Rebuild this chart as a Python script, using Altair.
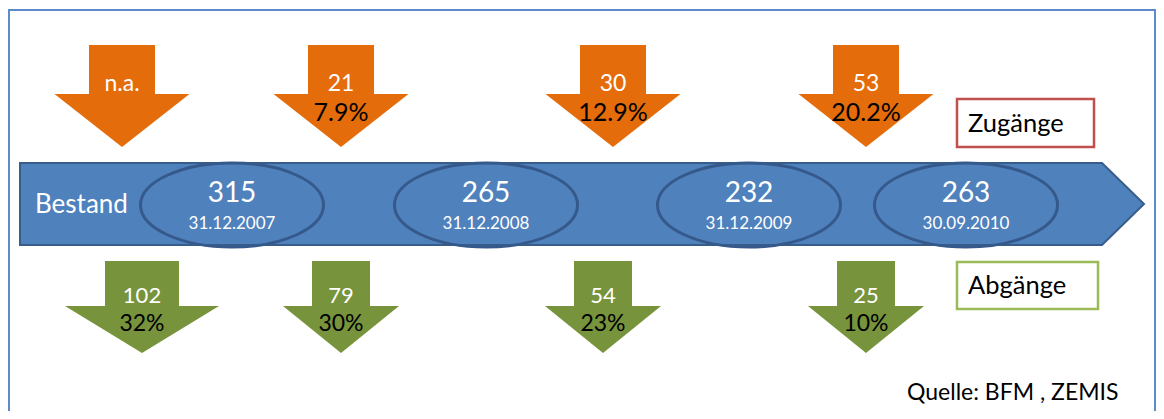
import altair as alt
import pandas as pd

# ---------------- data ----------------
dates = ["31.12.2007", "31.12.2008", "31.12.2009", "30.09.2010"]
bestand = [315, 265, 232, 263]
zugang = ["n.a.", "21", "30", "53"]
zugang_pct = ["", "7.9%", "12.9%", "20.2%"]
abgang = ["102", "79", "54", "25"]
abgang_pct = ["32%", "30%", "23%", "10%"]
stock_label = ["Bestand"]
legend_labels = ["Zugänge", "Abgänge"]
source_label = ["Quelle: BFM , ZEMIS"]

# ---------------- layout (page pixels) ----------------
W, H = 1148, 403
X0, Y0 = 8, 8
ell_x = [232, 486, 749, 966]
zu_x = [122, 341, 613, 866]
ab_x = [142, 341, 603, 866]
zu_head_half = [67.5, 67.5, 67.5, 67.5]
zu_shaft_half = [33, 33, 33, 33]
ab_head_half = [77, 58, 58, 58]
ab_shaft_half = [37, 29, 29, 29]
zu_top, zu_neck, zu_tip = 45, 94, 147
ab_top, ab_neck, ab_tip = 261, 306, 353
bar_left, bar_right, bar_point = 20, 1102, 1144
bar_top, bar_bottom = 163, 245
ell_w, ell_ratio = 183, 0.46

ORANGE = "#E46C0A"
GREEN = "#77933C"
BLUE = "#4F81BD"
BLUE_DARK = "#385D8A"
ELL = "#35598A"
FRAME = "#5B8BC8"
RED_BOX = "#C0504D"
GREEN_BOX = "#9BBB59"
FONT = "Lato"

xs = alt.Scale(domain=[X0, X0 + W], nice=False, zero=False)
ys = alt.Scale(domain=[Y0, Y0 + H], nice=False, zero=False, reverse=True)


def X(f="x"):
    return alt.X(f"{f}:Q", scale=xs, axis=None)


def Y(f="y"):
    return alt.Y(f"{f}:Q", scale=ys, axis=None)


# ---------------- frame ----------------
frame = alt.Chart(pd.DataFrame({"x": [9], "x2": [1155], "y": [10], "y2": [440]})).mark_rect(
    fillOpacity=0, stroke=FRAME, strokeWidth=2
).encode(x=X(), x2="x2:Q", y=Y(), y2="y2:Q")

# ---------------- arrows ----------------
shaft_rows, head_rows = [], []
for i, cx in enumerate(zu_x):
    shaft_rows.append({"g": "zu", "x": cx - zu_shaft_half[i], "x2": cx + zu_shaft_half[i],
                       "y": zu_top, "y2": zu_neck + 1})
    for px, py, py2 in [(cx - zu_head_half[i], zu_neck, zu_neck), (cx, zu_neck, zu_tip),
                        (cx + zu_head_half[i], zu_neck, zu_neck)]:
        head_rows.append({"id": f"zu{i}", "g": "zu", "x": px, "y": py, "y2": py2})
for i, cx in enumerate(ab_x):
    shaft_rows.append({"g": "ab", "x": cx - ab_shaft_half[i], "x2": cx + ab_shaft_half[i],
                       "y": ab_top, "y2": ab_neck + 1})
    for px, py, py2 in [(cx - ab_head_half[i], ab_neck, ab_neck), (cx, ab_neck, ab_tip),
                        (cx + ab_head_half[i], ab_neck, ab_neck)]:
        head_rows.append({"id": f"ab{i}", "g": "ab", "x": px, "y": py, "y2": py2})

col = alt.Color("g:N", scale=alt.Scale(domain=["zu", "ab"], range=[ORANGE, GREEN]), legend=None)

shafts = alt.Chart(pd.DataFrame(shaft_rows)).mark_rect().encode(
    x=X(), x2="x2:Q", y=Y(), y2="y2:Q", color=col)
heads = alt.Chart(pd.DataFrame(head_rows)).mark_area(orient="vertical", interpolate="linear").encode(
    x=X(), y=Y(), y2="y2:Q", color=col, detail="id:N")

# ---------------- timeline bar ----------------
bar_df = pd.DataFrame({
    "x": [bar_left, bar_right, bar_point],
    "y": [bar_top, bar_top, (bar_top + bar_bottom) / 2],
    "y2": [bar_bottom, bar_bottom, (bar_top + bar_bottom) / 2],
})
bar = alt.Chart(bar_df).mark_area(
    orient="vertical", interpolate="linear", color=BLUE, stroke=BLUE_DARK, strokeWidth=2
).encode(x=X(), y=Y(), y2="y2:Q")

ell_path = f"M-1,0A1,{ell_ratio},0,1,1,1,0A1,{ell_ratio},0,1,1,-1,0Z"
ell_df = pd.DataFrame({"x": ell_x, "y": [(bar_top + bar_bottom) / 2 + 1] * 4})
ellipses = alt.Chart(ell_df).mark_point(
    shape=ell_path, size=ell_w ** 2, filled=False, color=ELL, strokeWidth=3, opacity=1
).encode(x=X(), y=Y())

# ---------------- texts ----------------
def text_layer(xv, yv, labels, color, size, align="center"):
    df = pd.DataFrame({"x": xv, "y": yv, "t": labels})
    return alt.Chart(df).mark_text(
        font=FONT, fontSize=size, color=color, align=align, baseline="middle"
    ).encode(x=X(), y=Y(), text="t:N")

t_zu = text_layer(zu_x, [84] * 4, zugang, "white", 23)
t_zu_pct = text_layer(zu_x, [113] * 4, zugang_pct, "black", 25)
t_best = text_layer(ell_x, [194] * 4, [str(v) for v in bestand], "white", 28)
t_dates = text_layer(ell_x, [224] * 4, dates, "white", 17)
t_ab = text_layer(ab_x, [296] * 4, abgang, "white", 22)
t_ab_pct = text_layer(ab_x, [324] * 4, abgang_pct, "black", 23)
t_stock = text_layer([35], [205], stock_label, "white", 26, align="left")

# legend boxes
box_df = pd.DataFrame({"x": [957, 957], "x2": [1094, 1098], "y": [99, 262], "y2": [147, 309],
                       "g": legend_labels})
boxes = alt.Chart(box_df).mark_rect(fill="white", strokeWidth=2.5).encode(
    x=X(), x2="x2:Q", y=Y(), y2="y2:Q",
    stroke=alt.Stroke("g:N", scale=alt.Scale(domain=legend_labels, range=[RED_BOX, GREEN_BOX]),
                      legend=None))
t_leg = text_layer([968, 968], [124, 286], legend_labels, "black", 25.5, align="left")
t_src = text_layer([907], [393], source_label, "black", 23, align="left")

chart = alt.layer(
    frame, shafts, heads, bar, ellipses, boxes,
    t_zu, t_zu_pct, t_best, t_dates, t_ab, t_ab_pct, t_stock, t_leg, t_src
).properties(
    width=W, height=H, padding=0, autosize=alt.AutoSizeParams(type="none"), background="white"
).configure_view(strokeWidth=0)

chart.save("out.html", embed_options={"renderer": "svg", "actions": False})
